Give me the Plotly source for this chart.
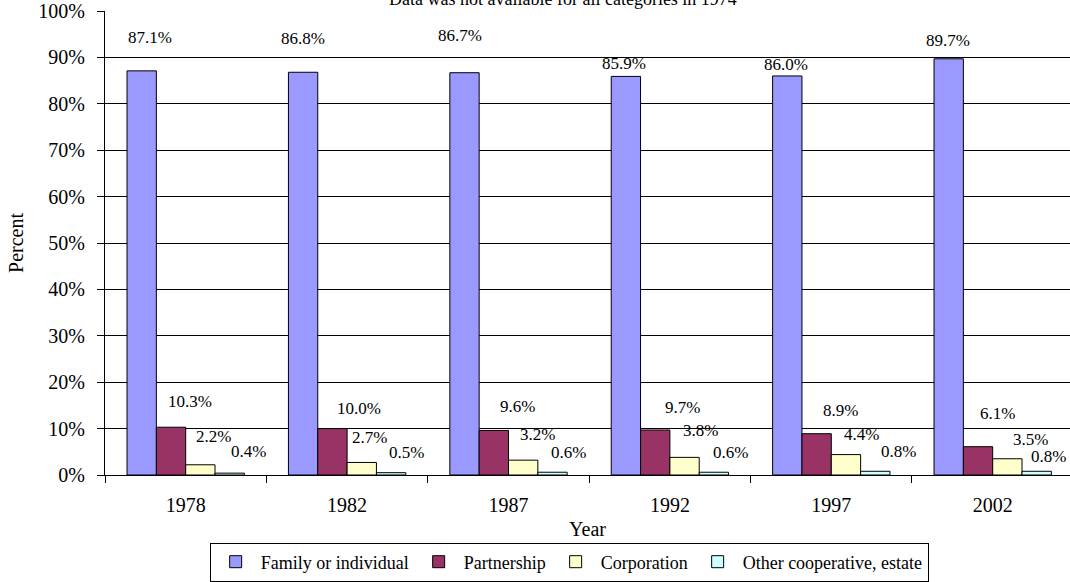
import plotly.graph_objects as go

years = ["1978", "1982", "1987", "1992", "1997", "2002"]
series_names = ["Family or individual", "Partnership", "Corporation", "Other cooperative, estate"]
family = [87.1, 86.8, 86.7, 85.9, 86.0, 89.7]
partnership = [10.3, 10.0, 9.6, 9.7, 8.9, 6.1]
corporation = [2.2, 2.7, 3.2, 3.8, 4.4, 3.5]
other = [0.4, 0.5, 0.6, 0.6, 0.8, 0.8]
y_ticks = list(range(0, 101, 10))
note = "Data was not available for all categories in 1974"

colors = ["#9999FF", "#993366", "#FFFFCC", "#CCFFFF"]

# label nudges in px (dx right, dy up from bar top)
label_dx = [
    [8, 0, -4, -2, -1, -1],
    [19, 27, 24, 27, 24, 19],
    [13, 8, 14, 16, 16, 23],
    [19, 15, 16, 17, 23, 12],
]
label_dy = [
    [33, 34, 37, 13, 11, 18],
    [26, 20, 24, 22, 23, 33],
    [28, 25, 26, 27, 20, 19],
    [22, 20, 20, 20, 20, 15],
]

W, H = 1070, 582
ml, mr, mt, mb = 105, 0, 11, 107
x_range = [-0.5, 5.479]
bargap = 0.273
cat_px = (W - ml - mr) / (x_range[1] - x_range[0])
bar_px = cat_px * (1 - bargap) / 4

serif = "Liberation Serif, Times New Roman, serif"

fig = go.Figure()
all_vals = [family, partnership, corporation, other]
for name, vals, col in zip(series_names, all_vals, colors):
    fig.add_trace(go.Bar(
        x=years, y=vals, name=name,
        marker=dict(color=col, line=dict(color="black", width=1)),
    ))

annotations = []
for j, vals in enumerate(all_vals):
    for i, v in enumerate(vals):
        annotations.append(dict(
            x=i, y=v, xref="x", yref="y",
            text=f"{v:.1f}%", showarrow=False,
            xshift=(j - 1.5) * bar_px + label_dx[j][i],
            yshift=label_dy[j][i],
            font=dict(size=17, color="black", family=serif),
        ))

# note sits half above the canvas, as in the original
annotations.append(dict(
    x=0.475, y=1, xref="paper", yref="paper", text=note, showarrow=False,
    yanchor="middle", yshift=12, font=dict(size=18, color="black", family=serif),
))

fig.update_layout(
    width=W, height=H,
    margin=dict(l=ml, r=mr, t=mt, b=mb),
    barmode="group", bargap=bargap, bargroupgap=0,
    plot_bgcolor="white", paper_bgcolor="white",
    font=dict(family=serif, color="black"),
    annotations=annotations,
    legend=dict(
        orientation="h", x=0.481, xanchor="center", y=-0.1875, yanchor="middle",
        bordercolor="black", borderwidth=1, font=dict(size=18, family=serif),
        itemwidth=40,
    ),
    xaxis=dict(
        type="category", range=x_range, automargin=False,
        showline=True, linecolor="black", linewidth=1,
        ticks="outside", ticklen=7, tickcolor="black", tickson="boundaries",
        showgrid=False, tickfont=dict(size=20, family=serif), ticklabelstandoff=12,
        title=dict(text="Year", font=dict(size=20, family=serif), standoff=6),
    ),
    yaxis=dict(
        range=[0, 100], tickvals=y_ticks, ticktext=[f"{t}%" for t in y_ticks],
        automargin=False,
        showline=True, linecolor="black", linewidth=1,
        ticks="outside", ticklen=7, tickcolor="black",
        showgrid=True, gridcolor="black", gridwidth=1,
        tickfont=dict(size=20, family=serif), ticklabelstandoff=8,
        title=dict(text="Percent", font=dict(size=20, family=serif), standoff=9),
        zeroline=False,
    ),
)

# drop the browser's default body margin so the figure sits at the page corner
fig.write_html("out.html", config={"displayModeBar": False},
               post_script="document.body.style.margin='0';")
